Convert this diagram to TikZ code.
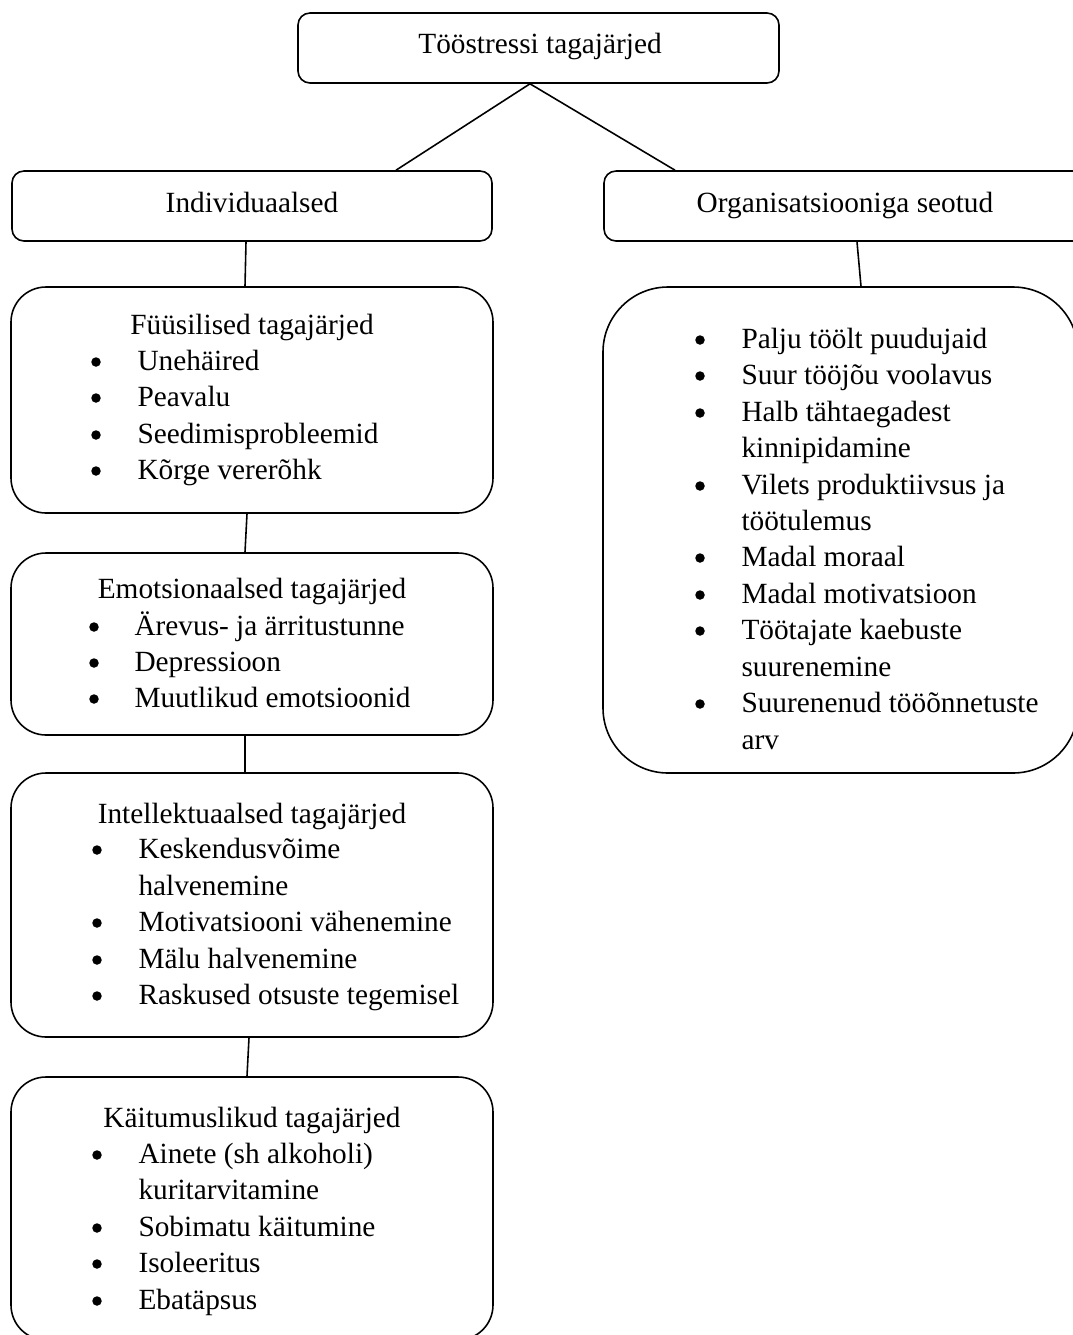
\documentclass[tikz,border=0pt]{standalone}
\usepackage{fontspec}
\setmainfont{Liberation Serif}
\usetikzlibrary{calc}
\def\pxu{0.3788pt}
\newcommand{\bitem}[5]{%
  \node[dot] (#1b) at (#2,#4-8) {};
  \node[txt,anchor=base west] (#1) at (#3,#4) {#5};}
\newcommand{\contline}[4]{\node[txt,anchor=base west] (#1) at (#2,#3) {#4};}
\begin{document}
\begin{tikzpicture}[x=0.3788pt,y=-0.3788pt,
  box/.style={draw,line width=0.6pt,inner sep=0pt,rounded corners=12*\pxu},
  bigbox/.style={box,rounded corners=35*\pxu},
  txt/.style={inner sep=0pt,font=\fontsize{11.1pt}{13.8pt}\selectfont},
  dot/.style={circle,fill,inner sep=0pt,minimum size=9.5*\pxu},
  conn/.style={line width=0.6pt}]
\clip (0,0) rectangle (1073,1335);
\fill[white] (0,0) rectangle (1073,1335);
% boxes
\node[box,minimum width=481*\pxu,minimum height=70*\pxu] (top) at (538.5,48) {};
\node[box,minimum width=480*\pxu,minimum height=70*\pxu] (ind) at (252,206) {};
\node[box,minimum width=482*\pxu,minimum height=70*\pxu] (org) at (845,206) {};
\node[bigbox,minimum width=482*\pxu,minimum height=226*\pxu] (fys) at (252,400) {};
\node[bigbox,minimum width=482*\pxu,minimum height=182*\pxu] (emo) at (252,644) {};
\node[bigbox,minimum width=482*\pxu,minimum height=264*\pxu] (int) at (252,905) {};
\node[bigbox,minimum width=482*\pxu,minimum height=263*\pxu] (kai) at (252,1208.5) {};
\node[box,rounded corners=65*\pxu,minimum width=475*\pxu,minimum height=486*\pxu] (orgl) at (840.5,530) {};
% connectors
\draw[conn] ($(top.south)+(-8.5,0)$) -- ($(ind.north)+(144,0)$);
\draw[conn] ($(top.south)+(-8.5,0)$) -- ($(org.north)+(-170,0)$);
\draw[conn] ($(ind.south)+(-6,0)$) -- ($(fys.north)+(-7,0)$);
\draw[conn] ($(fys.south)+(-5,0)$) -- ($(emo.north)+(-7,0)$);
\draw[conn] ($(emo.south)+(-7,0)$) -- ($(int.north)+(-7,0)$);
\draw[conn] ($(int.south)+(-3,0)$) -- ($(kai.north)+(-5,0)$);
\draw[conn] ($(org.south)+(12,0)$) -- ($(orgl.north)+(20.5,0)$);
% headings
\node[txt,anchor=base] (ttop) at (540,53) {Tööstressi tagajärjed};
\node[txt,anchor=base] (tind) at (252,212) {Individuaalsed};
\node[txt,anchor=base] (torg) at (845,212) {Organisatsiooniga seotud};
% Füüsilised
\node[txt,anchor=base] (tfys) at (252,334) {Füüsilised tagajärjed};
\bitem{f1}{96}{137}{370}{Unehäired}
\bitem{f2}{96}{137}{406}{Peavalu}
\bitem{f3}{96}{137}{443}{Seedimisprobleemid}
\bitem{f4}{96}{137}{479}{Kõrge vererõhk}
% Emotsionaalsed
\node[txt,anchor=base] (temo) at (252,598) {Emotsionaalsed tagajärjed};
\bitem{e1}{94}{134}{635}{Ärevus- ja ärritustunne}
\bitem{e2}{94}{134}{671}{Depressioon}
\bitem{e3}{94}{134}{707}{Muutlikud emotsioonid}
% Intellektuaalsed
\node[txt,anchor=base] (tint) at (252,823) {Intellektuaalsed tagajärjed};
\bitem{i1}{97}{138}{858}{Keskendusvõime}
\contline{i1c}{138}{895}{halvenemine}
\bitem{i2}{97}{138}{931}{Motivatsiooni vähenemine}
\bitem{i3}{97}{138}{968}{Mälu halvenemine}
\bitem{i4}{97}{138}{1004}{Raskused otsuste tegemisel}
% Käitumuslikud
\node[txt,anchor=base] (tkai) at (252,1127) {Käitumuslikud tagajärjed};
\bitem{k1}{97}{138}{1163}{Ainete (sh alkoholi)}
\contline{k1c}{138}{1199}{kuritarvitamine}
\bitem{k2}{97}{138}{1236}{Sobimatu käitumine}
\bitem{k3}{97}{138}{1272}{Isoleeritus}
\bitem{k4}{97}{138}{1309}{Ebatäpsus}
% Organisatsiooniga seotud list
\bitem{o1}{700}{741}{348}{Palju töölt puudujaid}
\bitem{o2}{700}{741}{384}{Suur tööjõu voolavus}
\bitem{o3}{700}{741}{421}{Halb tähtaegadest}
\contline{o3c}{741}{457}{kinnipidamine}
\bitem{o4}{700}{741}{494}{Vilets produktiivsus ja}
\contline{o4c}{741}{530}{töötulemus}
\bitem{o5}{700}{741}{566}{Madal moraal}
\bitem{o6}{700}{741}{603}{Madal motivatsioon}
\bitem{o7}{700}{741}{639}{Töötajate kaebuste}
\contline{o7c}{741}{676}{suurenemine}
\bitem{o8}{700}{741}{712}{Suurenenud tööõnnetuste}
\contline{o8c}{741}{749}{arv}
\end{tikzpicture}
\end{document}
